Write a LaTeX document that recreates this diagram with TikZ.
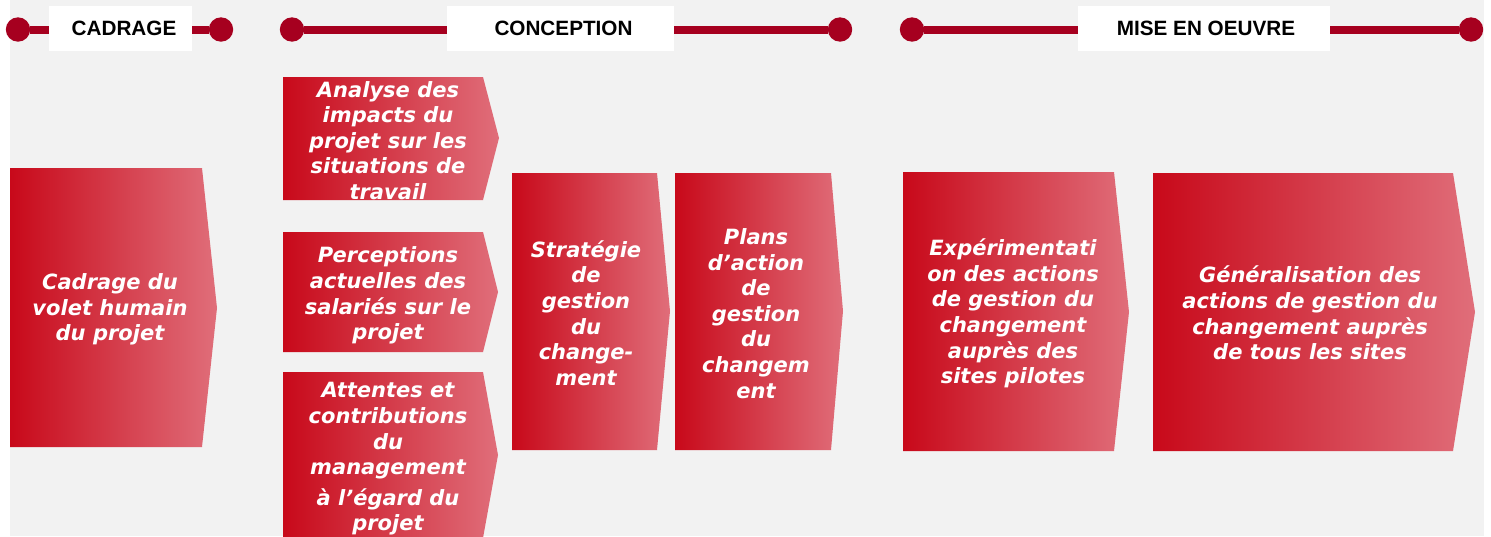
\documentclass[tikz,border=0pt]{standalone}
\usepackage{fontspec}
\newfontfamily\bxfont{DejaVu Sans}
\newfontfamily\hdfont{Liberation Sans}
\definecolor{hdred}{HTML}{A6001F}
\definecolor{redL}{HTML}{C8091A}
\definecolor{redM}{HTML}{D5505E}
\definecolor{redR}{HTML}{E06E7A}
\definecolor{bggray}{HTML}{F2F2F2}
\newcommand\chevron[6]{% left, top, right, tip, bottom, tipy
  \shade[chev] (#1,#2) -- (#3,#2) -- (#4,#6) -- (#3,#5) -- (#1,#5) -- cycle;}
\begin{document}
\begin{tikzpicture}[x=1pt,y=-1pt,
  dot/.style={circle, fill=hdred, minimum size=24.4pt, inner sep=0pt},
  bar/.style={draw=hdred, line width=8pt},
  hbox/.style={fill=white, minimum height=45pt, inner sep=0pt, text=black,
    font=\hdfont\bfseries\fontsize{20.7}{24}\selectfont},
  chev/.style={left color=redL, middle color=redM, right color=redR, draw=none},
  btext/.style={text=white, align=center, inner sep=0pt,
    font=\bxfont\bfseries\itshape\fontsize{21}{25.6}\selectfont}]
\useasboundingbox (0,0) rectangle (1491,536);
\clip (0,0) rectangle (1491,536);
\fill[white] (0,0) rectangle (1491,536);
\fill[bggray] (10,0) rectangle (1484,536);

% chevron boxes
\chevron{10}{168}{202}{217}{447}{308}
\chevron{283}{77}{483}{499}{200}{138}
\chevron{283}{232}{483}{498}{352}{292}
\chevron{283}{372}{483}{498}{538}{455}
\chevron{512}{173}{657}{670}{450}{311}
\chevron{675}{173}{831}{843}{450}{311}
\chevron{903}{172}{1114}{1129}{451}{312}
\chevron{1153}{173}{1453}{1475}{451}{312}

% box texts
\node[btext] (t1) at (110,309.5) {Cadrage du\\volet humain\\du projet};
\node[btext] (t2) at (388,140.5) {Analyse des\\impacts du\\projet sur les\\situations de\\travail};
\node[btext] (t3) at (388,295.5) {Perceptions\\actuelles des\\salariés sur le\\projet};
\node[btext] (t4) at (388,459) {Attentes et\\contributions\\du\\management\\[5pt]à l’égard du\\projet};
\node[btext] (t5) at (586,313) {Stratégie\\de\\gestion\\du\\change-\\ment};
\node[btext] (t6) at (756,313.5) {Plans\\d’action\\de\\gestion\\du\\changem\\ent};
\node[btext] (t7) at (1013,313.5) {Expérimentati\\on des actions\\de gestion du\\changement\\auprès des\\sites pilotes};
\node[btext] (t8) at (1310,313) {Généralisation des\\actions de gestion du\\changement auprès\\de tous les sites};

% header bars
\node[dot] (a1) at (18,29.5) {};
\node[dot] (a2) at (221,29.5) {};
\node[dot] (b1) at (292,29.5) {};
\node[dot] (b2) at (840,29.5) {};
\node[dot] (c1) at (912,29.5) {};
\node[dot] (c2) at (1471,29.5) {};
\draw[bar] (a1) -- (a2);
\draw[bar] (b1) -- (b2);
\draw[bar] (c1) -- (c2);
\node[hbox, minimum width=143pt] (h1) at (120.5,28.5) {\hspace*{7pt}CADRAGE};
\node[hbox, minimum width=227pt] (h2) at (560.5,28.5) {\hspace*{6pt}CONCEPTION};
\node[hbox, minimum width=252pt] (h3) at (1204,28.5) {\hspace*{4pt}MISE EN OEUVRE};
\end{tikzpicture}
\end{document}
